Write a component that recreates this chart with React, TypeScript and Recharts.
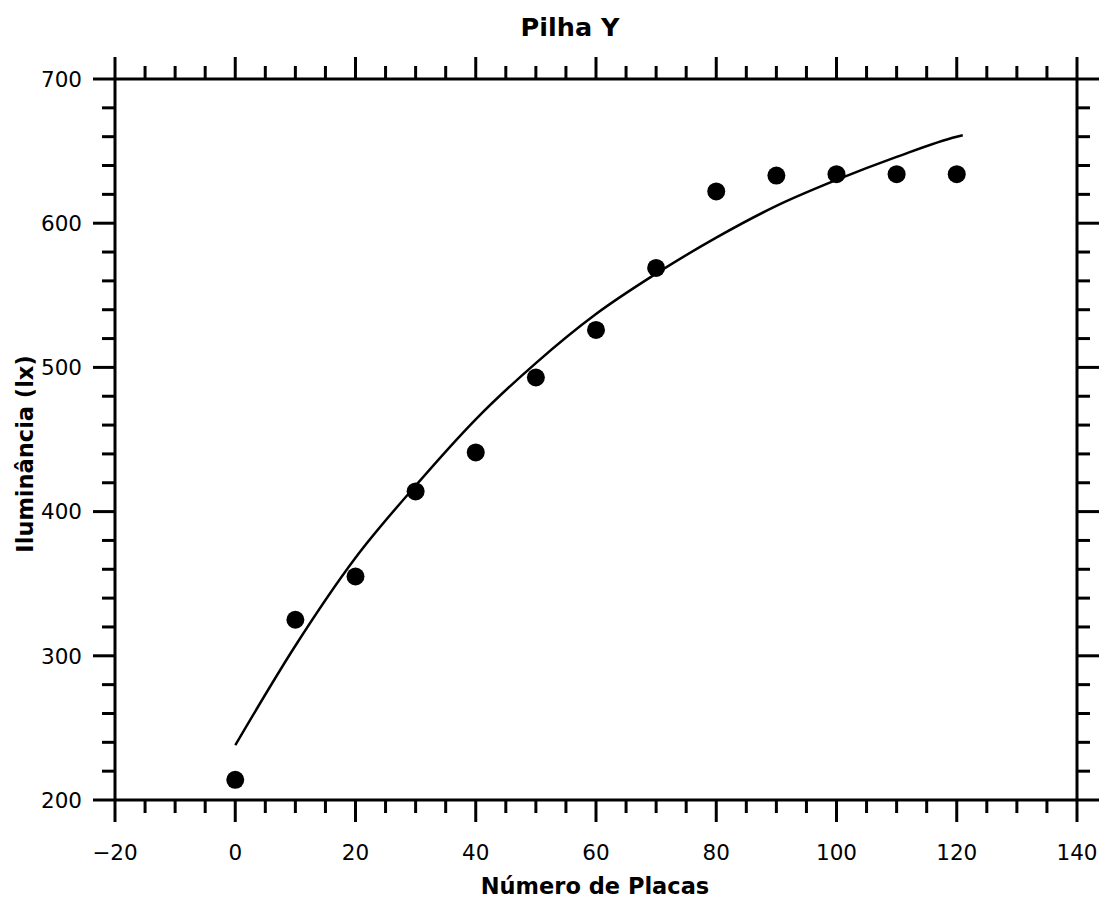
import { ComposedChart, XAxis, YAxis, Scatter, Line, Customized } from "recharts";

// measured points
const placas = [0, 10, 20, 30, 40, 50, 60, 70, 80, 90, 100, 110, 120];
const iluminancia = [214, 325, 355, 414, 441, 493, 526, 569, 622, 633, 634, 634, 634];

// fitted curve
const ajusteX = [0, 10, 20, 30, 40, 50, 60, 70, 80, 90, 100, 110, 120, 121];
const ajusteY = [238, 307, 368, 418, 464, 503, 537, 565, 590, 612, 630, 646, 660, 661];

const xTicks = [-20, -15, -10, -5, 0, 5, 10, 15, 20, 25, 30, 35, 40, 45, 50, 55, 60, 65, 70, 75, 80, 85, 90, 95, 100, 105, 110, 115, 120, 125, 130, 135, 140];
const yTicks = [200, 220, 240, 260, 280, 300, 320, 340, 360, 380, 400, 420, 440, 460, 480, 500, 520, 540, 560, 580, 600, 620, 640, 660, 680, 700];

const pontos = placas.map((x, i) => ({ x, y: iluminancia[i] }));
const ajuste = ajusteX.map((x, i) => ({ x, y: ajusteY[i] }));

const FONT = "'DejaVu Sans', sans-serif";
const MAJOR = 22;
const MINOR = 13;

const fmt = (v: number) => (v < 0 ? `\u2212${Math.abs(v)}` : `${v}`);

const BottomTick = ({ x, y, payload }: any) => {
  const major = payload.value % 20 === 0;
  return (
    <g>
      <line x1={x} x2={x} y1={y} y2={y + (major ? MAJOR : MINOR)} stroke="#000" strokeWidth={3} />
      {major && (
        <text x={x} y={y + 60} textAnchor="middle" fontFamily={FONT} fontSize={21.5} fill="#000">
          {fmt(payload.value)}
        </text>
      )}
    </g>
  );
};

const TopTick = ({ x, y, payload }: any) => {
  const major = payload.value % 20 === 0;
  return <line x1={x} x2={x} y1={y} y2={y - (major ? MAJOR : MINOR)} stroke="#000" strokeWidth={3} />;
};

const LeftTick = ({ x, y, payload }: any) => {
  const major = payload.value % 100 === 0;
  return (
    <g>
      <line x1={x} x2={x - (major ? MAJOR : MINOR)} y1={y} y2={y} stroke="#000" strokeWidth={3} />
      {major && (
        <text x={x - 33} y={y} dy="0.36em" textAnchor="end" fontFamily={FONT} fontSize={21.5} fill="#000">
          {payload.value}
        </text>
      )}
    </g>
  );
};

const RightTick = ({ x, y, payload }: any) => {
  const major = payload.value % 100 === 0;
  return <line x1={x} x2={x + (major ? MAJOR : MINOR)} y1={y} y2={y} stroke="#000" strokeWidth={3} />;
};

const Dot = (props: any) => <circle cx={props.cx} cy={props.cy} r={9} fill="#000" />;

const Textos = () => (
  <g fontFamily={FONT} fontWeight="bold" fill="#000">
    <text x={570} y={27} textAnchor="middle" dy="0.36em" fontSize={25.5}>
      Pilha Y
    </text>
    <text x={595} y={894} textAnchor="middle" fontSize={22.5}>
      Número de Placas
    </text>
    <text
      x={25}
      y={454}
      textAnchor="middle"
      dy="0.36em"
      fontSize={22.5}
      transform="rotate(-90 25 454)"
    >
      Iluminância (lx)
    </text>
  </g>
);

const axisLine = { stroke: "#000", strokeWidth: 3 };

export default function App() {
  return (
    <>
      <style>{"body{margin:0;overflow:hidden}"}</style>
      <ComposedChart width={1101} height={898} margin={{ top: 49, right: 0, bottom: 0, left: 0 }}>
        <XAxis
          dataKey="x"
          type="number"
          domain={[-20, 140]}
          ticks={xTicks}
          interval={0}
          height={98}
          tickSize={0}
          tickMargin={0}
          axisLine={axisLine}
          tick={<BottomTick />}
          allowDataOverflow
        />
        <XAxis
          xAxisId="top"
          orientation="top"
          dataKey="x"
          type="number"
          domain={[-20, 140]}
          ticks={xTicks}
          interval={0}
          height={30}
          tickSize={0}
          tickMargin={0}
          axisLine={axisLine}
          tick={<TopTick />}
          allowDataOverflow
        />
        <YAxis
          dataKey="y"
          type="number"
          domain={[200, 700]}
          ticks={yTicks}
          interval={0}
          width={115}
          tickSize={0}
          tickMargin={0}
          axisLine={axisLine}
          tick={<LeftTick />}
          allowDataOverflow
        />
        <YAxis
          yAxisId="right"
          orientation="right"
          dataKey="y"
          type="number"
          domain={[200, 700]}
          ticks={yTicks}
          interval={0}
          width={24}
          tickSize={0}
          tickMargin={0}
          axisLine={axisLine}
          tick={<RightTick />}
          allowDataOverflow
        />
        <Line
          data={ajuste}
          dataKey="y"
          type="monotone"
          stroke="#000"
          strokeWidth={2.5}
          dot={false}
          activeDot={false}
          isAnimationActive={false}
        />
        <Scatter data={pontos} dataKey="y" shape={<Dot />} isAnimationActive={false} />
        <Scatter
          data={pontos}
          dataKey="y"
          xAxisId="top"
          yAxisId="right"
          shape={() => <g />}
          isAnimationActive={false}
        />
        <Customized component={Textos} />
      </ComposedChart>
    </>
  );
}
